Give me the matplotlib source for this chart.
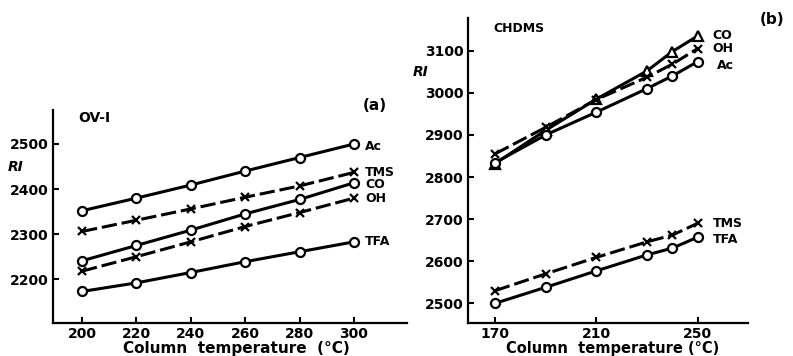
import matplotlib.pyplot as plt

# (a) OV-1 column
temps_a = [200, 220, 240, 260, 280, 300]
ac_a = [2352, 2380, 2409, 2440, 2470, 2500]
tms_a = [2306, 2331, 2356, 2382, 2407, 2437]
co_a = [2241, 2275, 2309, 2345, 2377, 2414]
oh_a = [2218, 2250, 2283, 2317, 2348, 2380]
tfa_a = [2173, 2192, 2215, 2239, 2261, 2283]

# (b) CHDMS column
temps_b = [170, 190, 210, 230, 240, 250]
co_b = [2832, 2911, 2985, 3052, 3098, 3135]
oh_b = [2855, 2918, 2984, 3037, 3068, 3105]
ac_b = [2834, 2900, 2954, 3010, 3040, 3074]
tms_b = [2530, 2570, 2609, 2646, 2662, 2690]
tfa_b = [2500, 2538, 2577, 2615, 2631, 2657]

W, H = 793, 356
fig = plt.figure(figsize=(W / 100, H / 100), dpi=100)
plt.rcParams["font.family"] = "DejaVu Sans"
plt.rcParams["font.weight"] = "bold"


def px_axes(x0, x1, y0, y1):
    # pixel box (top-left origin) -> axes
    return fig.add_axes([x0 / W, 1 - y1 / H, (x1 - x0) / W, (y1 - y0) / H])


def style_axes(ax):
    for side in ["top", "right"]:
        ax.spines[side].set_visible(False)
    for side in ["left", "bottom"]:
        ax.spines[side].set_linewidth(1.6)
    ax.tick_params(direction="in", length=4, width=1.5, labelsize=10)
    ax.tick_params(axis="y", pad=3)
    ax.tick_params(axis="x", pad=3)
    for lbl in ax.get_xticklabels() + ax.get_yticklabels():
        lbl.set_fontweight("bold")


def draw(ax, x, y, marker, dashed):
    ls = (0, (5, 1.6)) if dashed else "-"
    ax.plot(x, y, color="black", lw=2.2, ls=ls, marker=marker, ms=6.5 if marker != "x" else 6,
            mfc="white", mec="black", mew=1.6, zorder=3)


def label(ax, text, x, y, dx, dy):
    ax.annotate(text, (x, y), xytext=(dx, dy), textcoords="offset pixels",
                ha="left", va="center", fontsize=9, fontweight="bold")


# Panel (a)
ax1 = px_axes(53, 407, 110, 323)
draw(ax1, temps_a, ac_a, "o", False)
draw(ax1, temps_a, tms_a, "x", True)
draw(ax1, temps_a, co_a, "o", False)
draw(ax1, temps_a, oh_a, "x", True)
draw(ax1, temps_a, tfa_a, "o", False)
ax1.set_xlim(189.3, 319.5)
ax1.set_ylim(2103, 2575.4)
ax1.set_xticks(temps_a)
ax1.set_yticks([2200, 2300, 2400, 2500])
style_axes(ax1)
label(ax1, "Ac", 300, ac_a[-1], 11, -3)
label(ax1, "TMS", 300, tms_a[-1], 11, 0)
label(ax1, "CO", 300, co_a[-1], 11, -2)
label(ax1, "OH", 300, oh_a[-1], 11, 0)
label(ax1, "TFA", 300, tfa_a[-1], 11, 0)

# Panel (b)
ax2 = px_axes(468, 748, 18, 323)
draw(ax2, temps_b, co_b, "^", False)
draw(ax2, temps_b, oh_b, "x", True)
draw(ax2, temps_b, ac_b, "o", False)
draw(ax2, temps_b, tms_b, "x", True)
draw(ax2, temps_b, tfa_b, "o", False)
ax2.set_xlim(159.3, 269.9)
ax2.set_ylim(2453.2, 3177.7)
ax2.set_xticks([170, 210, 250])
ax2.set_yticks([2500, 2600, 2700, 2800, 2900, 3000, 3100])
style_axes(ax2)
label(ax2, "CO", 250, co_b[-1], 15, 0)
label(ax2, "OH", 250, oh_b[-1], 15, 0)
label(ax2, "Ac", 250, ac_b[-1], 19, -4)
label(ax2, "TMS", 250, tms_b[-1], 15, 0)
label(ax2, "TFA", 250, tfa_b[-1], 15, -2)


# Free text placed in pixels
def ftext(x, y, s, **kw):
    fig.text(x / W, 1 - y / H, s, fontweight="bold", **kw)


ftext(236, 348, "Column  temperature  (°C)", fontsize=11, ha="center", va="center")
ftext(613, 349, "Column  temperature (°C)", fontsize=10.5, ha="center", va="center")
ftext(8, 167, "RI", fontsize=10, style="italic", va="center")
ftext(413, 72, "RI", fontsize=10, style="italic", va="center")
ftext(78, 118, "OV-I", fontsize=10, va="center")
ftext(493, 28, "CHDMS", fontsize=9, va="center")
ftext(363, 105, "(a)", fontsize=11, va="center")
ftext(760, 19, "(b)", fontsize=11, va="center")

fig.savefig("out.png", dpi=100)
